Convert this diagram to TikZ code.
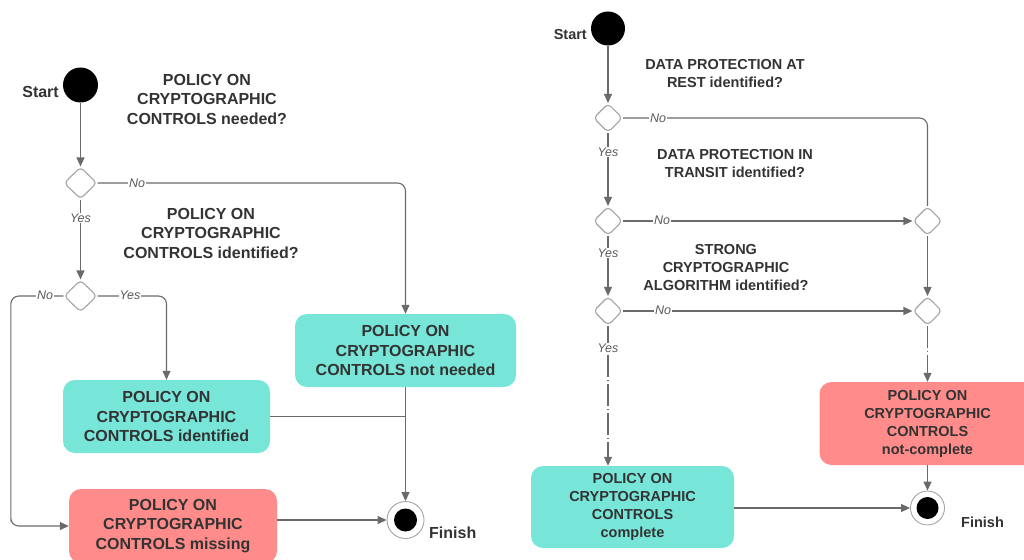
\documentclass[tikz,border=0pt]{standalone}
\usepackage{fontspec}
\setmainfont{Liberation Sans}
\usetikzlibrary{arrows.meta,shapes.geometric}
\definecolor{ink}{HTML}{333333}
\definecolor{wire}{HTML}{6A6A6A}
\definecolor{edge}{HTML}{A4A4A4}
\definecolor{okfill}{HTML}{77E5D8}
\definecolor{badfill}{HTML}{FF8C8A}
\definecolor{lblgray}{HTML}{5A5A5A}
\tikzset{
  x=1pt, y=-1pt,
  conn/.style={draw=wire, line width=1.1pt},
  arr/.style={conn, -{Triangle[length=9pt,width=8pt]}},
  dashdot/.style={dash pattern=on 22pt off 3pt on 1pt off 3pt},
  startdot/.style={circle, fill=black, inner sep=0pt},
  decision/.style={diamond, draw=edge, fill=white, line width=1.1pt, inner sep=0pt,
    rounded corners=4pt},
  stepbox/.style={rectangle, rounded corners=12pt, inner sep=0pt, text=ink, align=center},
  bigtext/.style={font=\bfseries\fontsize{16}{19.5}\selectfont},
  smalltext/.style={font=\bfseries\fontsize{14.5}{18}\selectfont},
  question/.style={text=ink, align=center, inner sep=0pt},
  lbl/.style={fill=white, inner sep=1pt, text=lblgray, font=\itshape\fontsize{12.5}{14}\selectfont},
  tag/.style={text=ink, inner sep=0pt},
}
\begin{document}
\begin{tikzpicture}
\useasboundingbox (0,0) rectangle (1024,559);
\clip (0,0) rectangle (1024,559);

% ---------------- left flow ----------------
\node[startdot, minimum size=35pt] (startL) at (80.5,85) {};
\node[tag, bigtext, anchor=east] (startLtxt) at (59,92) {Start};

\node[question, bigtext] (qL1) at (207,99) {POLICY ON\\CRYPTOGRAPHIC\\CONTROLS needed?};
\node[question, bigtext] (qL2) at (211,233) {POLICY ON\\CRYPTOGRAPHIC\\CONTROLS identified?};

\node[decision, minimum width=33pt, minimum height=32pt] (dL1) at (80.5,183) {};
\node[decision, minimum width=33pt, minimum height=32pt] (dL2) at (80.5,296) {};

\node[stepbox, bigtext, fill=okfill, minimum width=207pt, minimum height=73pt] (ident) at (166.5,416.5)
  {POLICY ON\\CRYPTOGRAPHIC\\CONTROLS identified};
\node[stepbox, bigtext, fill=okfill, minimum width=221pt, minimum height=73pt] (notneeded) at (405.5,350.5)
  {POLICY ON\\CRYPTOGRAPHIC\\CONTROLS not needed};
\node[stepbox, bigtext, fill=badfill, minimum width=208pt, minimum height=74pt] (missing) at (173,526)
  {POLICY ON\\CRYPTOGRAPHIC\\CONTROLS missing};

\node[circle, draw=edge, fill=white, line width=0.9pt, minimum size=37pt, inner sep=0pt] (finL) at (405.5,520) {};
\node[startdot, minimum size=23pt] (finLdot) at (finL) {};
\node[tag, bigtext, anchor=west] (finLtxt) at (429,533) {Finish};

\draw[arr] (startL) -- (dL1.north);
\draw[arr] (dL1.south) -- (dL2.north);
\draw[arr, rounded corners=8pt] (dL1.east) -| (notneeded.north);
\draw[arr, rounded corners=8pt] (dL2.east) -| (ident.north);
\draw[arr, rounded corners=8pt] (dL2.west) -| ([xshift=-58pt]missing.west) |- (missing.west);
\draw[conn] (ident.east) -- (ident.east -| notneeded.south);
\draw[arr] (notneeded.south) -- (finL.north);
\draw[arr] (missing.east |- finL) -- (finL.west);

\node[lbl] (noL1) at (137,183) {No};
\node[lbl] (yesL1) at (80.5,218) {Yes};
\node[lbl] (noL2) at (45,295) {No};
\node[lbl] (yesL2) at (130,295) {Yes};

% ---------------- right flow ----------------
\node[startdot, minimum size=34pt] (startR) at (608,28.5) {};
\node[tag, smalltext, anchor=east] (startRtxt) at (587,35) {Start};

\node[question, smalltext] (qR1) at (725,74) {DATA PROTECTION AT\\REST identified?};
\node[question, smalltext] (qR2) at (735,164) {DATA PROTECTION IN\\TRANSIT identified?};
\node[question, smalltext] (qR3) at (726,268) {STRONG\\CRYPTOGRAPHIC\\ALGORITHM identified?};

\node[decision, minimum width=29pt, minimum height=29pt] (dR1) at (608,118) {};
\node[decision, minimum width=29pt, minimum height=29pt] (dR2) at (608,221) {};
\node[decision, minimum width=29pt, minimum height=29pt] (dR3) at (608,311) {};
\node[decision, minimum width=29pt, minimum height=29pt] (dR4) at (927.5,221) {};
\node[decision, minimum width=29pt, minimum height=29pt] (dR5) at (927.5,311) {};

\node[stepbox, smalltext, fill=okfill, minimum width=203pt, minimum height=82pt] (complete) at (632.5,507)
  {POLICY ON\\CRYPTOGRAPHIC\\CONTROLS\\complete};
\node[stepbox, smalltext, fill=badfill, minimum width=216pt, minimum height=83pt] (notcomplete) at (927.5,423.5)
  {POLICY ON\\CRYPTOGRAPHIC\\CONTROLS\\not-complete};

\node[circle, draw=edge, fill=white, line width=0.9pt, minimum size=34pt, inner sep=0pt] (finR) at (927.5,508) {};
\node[startdot, minimum size=22pt] (finRdot) at (finR) {};
\node[tag, smalltext, anchor=west] (finRtxt) at (961,522) {Finish};

\draw[arr] (startR) -- (dR1.north);
\draw[arr] (dR1.south) -- (dR2.north);
\draw[arr] (dR2.south) -- (dR3.north);
\draw[conn, rounded corners=8pt] (dR1.east) -| (dR4.north);
\draw[arr] (dR2.east) -- (dR4.west);
\draw[arr] (dR3.east) -- (dR5.west);
\draw[arr] (dR4.south) -- (dR5.north);
\draw[arr, dashdot] (dR3.south) -- (dR3.south |- complete.north);
\draw[arr, dashdot] (dR5.south) -- (notcomplete.north);
\draw[arr] (notcomplete.south) -- (finR.north);
\draw[arr] (complete.east |- finR) -- (finR.west);

\node[lbl] (noR1) at (658,118) {No};
\node[lbl] (yesR1) at (608,152) {Yes};
\node[lbl] (noR2) at (662,220.5) {No};
\node[lbl] (yesR2) at (608,253) {Yes};
\node[lbl] (noR3) at (663,310.5) {No};
\node[lbl] (yesR3) at (608,348) {Yes};
\end{tikzpicture}
\end{document}
